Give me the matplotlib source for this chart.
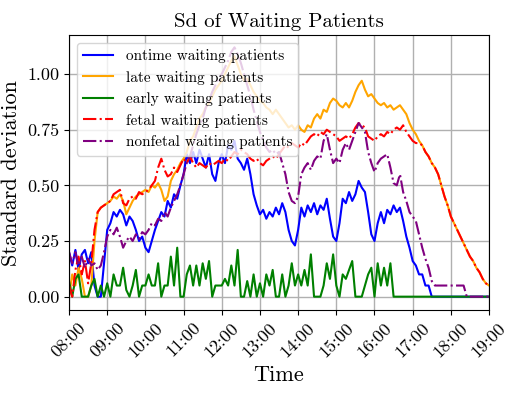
import matplotlib
matplotlib.use('Agg')
import matplotlib.pyplot as plt
import matplotlib.dates as mdates
import pandas as pd

plt.rcParams['font.family'] = 'serif'
plt.rcParams['font.serif'] = ['cmr10']
plt.rcParams['mathtext.fontset'] = 'cm'
plt.rcParams['axes.formatter.use_mathtext'] = True

# 5-minute samples, 08:00 .. 19:00
times = pd.date_range('2021-01-01 08:00', '2021-01-01 19:00', freq='5min')

ontime = [
    0.20, 0.14, 0.21, 0.12, 0.19, 0.21, 0.15, 0.20, 0.05, 0.00, 0.00, 0.15,
    0.30, 0.33, 0.38, 0.36, 0.39, 0.37, 0.32, 0.36, 0.34, 0.30, 0.25, 0.27,
    0.22, 0.20, 0.25, 0.30, 0.34, 0.38, 0.36, 0.43, 0.40, 0.46, 0.44, 0.50,
    0.55, 0.64, 0.60, 0.65, 0.60, 0.66, 0.62, 0.58, 0.64, 0.55, 0.52, 0.60,
    0.64, 0.60, 0.68, 0.66, 0.70, 0.62, 0.60, 0.57, 0.62, 0.55, 0.46, 0.41,
    0.37, 0.39, 0.35, 0.38, 0.36, 0.40, 0.37, 0.42, 0.38, 0.30, 0.25, 0.23,
    0.30, 0.40, 0.36, 0.41, 0.38, 0.42, 0.37, 0.41, 0.39, 0.44, 0.35, 0.27,
    0.25, 0.33, 0.44, 0.42, 0.47, 0.43, 0.46, 0.52, 0.49, 0.47, 0.38, 0.28,
    0.25, 0.33, 0.38, 0.33, 0.39, 0.37, 0.41, 0.38, 0.40, 0.34, 0.27, 0.22,
    0.16, 0.14, 0.10, 0.10, 0.05, 0.05, 0.00, 0.00, 0.00, 0.00, 0.00, 0.00,
    0.00, 0.00, 0.00, 0.00, 0.00, 0.00, 0.00, 0.00, 0.00, 0.00, 0.00, 0.00,
    0.00,
]

late = [
    0.00, 0.10, 0.05, 0.13, 0.08, 0.00, 0.00, 0.05, 0.25, 0.38, 0.40, 0.41,
    0.42, 0.43, 0.45, 0.44, 0.46, 0.43, 0.37, 0.40, 0.43, 0.45, 0.46, 0.47,
    0.48, 0.47, 0.50, 0.49, 0.51, 0.48, 0.43, 0.45, 0.52, 0.55, 0.57, 0.60,
    0.62, 0.65, 0.70, 0.72, 0.76, 0.80, 0.82, 0.85, 0.87, 0.90, 0.93, 0.95,
    0.97, 1.00, 1.03, 1.06, 1.08, 1.04, 1.00, 0.97, 0.98, 0.95, 0.92, 0.90,
    0.88, 0.87, 0.85, 0.84, 0.82, 0.84, 0.82, 0.80, 0.78, 0.76, 0.77, 0.75,
    0.77, 0.75, 0.74, 0.77, 0.76, 0.80, 0.82, 0.80, 0.84, 0.83, 0.87, 0.89,
    0.88, 0.86, 0.85, 0.87, 0.85, 0.88, 0.92, 0.95, 0.97, 0.93, 0.90, 0.91,
    0.89, 0.87, 0.86, 0.87, 0.85, 0.86, 0.84, 0.85, 0.86, 0.84, 0.82, 0.78,
    0.75, 0.73, 0.70, 0.68, 0.65, 0.63, 0.60, 0.58, 0.55, 0.50, 0.45, 0.41,
    0.36, 0.33, 0.30, 0.27, 0.24, 0.21, 0.18, 0.16, 0.13, 0.11, 0.08, 0.06,
    0.05,
]

early = [
    0.07, 0.00, 0.08, 0.10, 0.00, 0.00, 0.00, 0.05, 0.08, 0.00, 0.05, 0.00,
    0.06, 0.00, 0.10, 0.05, 0.05, 0.13, 0.03, 0.00, 0.05, 0.12, 0.00, 0.05,
    0.05, 0.10, 0.05, 0.05, 0.15, 0.00, 0.05, 0.05, 0.18, 0.05, 0.22, 0.00,
    0.00, 0.10, 0.14, 0.05, 0.14, 0.05, 0.15, 0.08, 0.16, 0.00, 0.05, 0.05,
    0.05, 0.08, 0.05, 0.14, 0.05, 0.21, 0.00, 0.00, 0.07, 0.00, 0.10, 0.00,
    0.06, 0.00, 0.10, 0.05, 0.12, 0.00, 0.00, 0.10, 0.00, 0.05, 0.15, 0.05,
    0.10, 0.05, 0.12, 0.05, 0.19, 0.00, 0.00, 0.00, 0.05, 0.15, 0.08, 0.19,
    0.05, 0.00, 0.10, 0.08, 0.12, 0.16, 0.00, 0.00, 0.00, 0.05, 0.10, 0.13,
    0.00, 0.15, 0.05, 0.13, 0.05, 0.15, 0.00, 0.00, 0.00, 0.00, 0.00, 0.00,
    0.00, 0.00, 0.00, 0.00, 0.00, 0.00, 0.00, 0.00, 0.00, 0.00, 0.00, 0.00,
    0.00, 0.00, 0.00, 0.00, 0.00, 0.00, 0.00, 0.00, 0.00, 0.00, 0.00, 0.00,
    0.00,
]

fetal = [
    0.05, 0.00, 0.12, 0.18, 0.10, 0.16, 0.06, 0.15, 0.30, 0.38, 0.40, 0.41,
    0.42, 0.43, 0.46, 0.47, 0.48, 0.42, 0.41, 0.44, 0.45, 0.44, 0.47, 0.46,
    0.47, 0.48, 0.50, 0.52, 0.58, 0.62, 0.57, 0.54, 0.55, 0.58, 0.56, 0.59,
    0.62, 0.60, 0.63, 0.60, 0.58, 0.60, 0.59, 0.58, 0.60, 0.59, 0.60, 0.61,
    0.60, 0.62, 0.61, 0.63, 0.65, 0.64, 0.66, 0.65, 0.64, 0.62, 0.61, 0.62,
    0.60, 0.59, 0.61, 0.62, 0.63, 0.62, 0.64, 0.66, 0.68, 0.67, 0.69, 0.68,
    0.67, 0.69, 0.68, 0.70, 0.72, 0.73, 0.72, 0.74, 0.73, 0.75, 0.74, 0.73,
    0.72, 0.70, 0.71, 0.72, 0.71, 0.73, 0.76, 0.78, 0.77, 0.76, 0.72, 0.71,
    0.70, 0.72, 0.73, 0.72, 0.74, 0.73, 0.75, 0.76, 0.75, 0.77, 0.74, 0.72,
    0.70, 0.69, 0.69, 0.68, 0.65, 0.63, 0.60, 0.58, 0.55, 0.50, 0.45, 0.41,
    0.36, 0.33, 0.30, 0.27, 0.24, 0.21, 0.18, 0.16, 0.13, 0.11, 0.08, 0.06,
    0.05,
]

nonfetal = [
    0.20, 0.15, 0.20, 0.14, 0.18, 0.13, 0.17, 0.14, 0.15, 0.12, 0.14, 0.20,
    0.27, 0.30, 0.28, 0.31, 0.27, 0.22, 0.25, 0.27, 0.25, 0.28, 0.26, 0.29,
    0.28, 0.30, 0.33, 0.32, 0.35, 0.34, 0.38, 0.36, 0.40, 0.43, 0.46, 0.50,
    0.55, 0.60, 0.63, 0.68, 0.73, 0.77, 0.80, 0.85, 0.88, 0.92, 0.95, 0.98,
    1.00, 1.03, 1.06, 1.10, 1.12, 1.09, 1.05, 1.00, 0.95, 0.90, 0.84, 0.79,
    0.74, 0.70, 0.67, 0.65, 0.66, 0.64, 0.65, 0.60, 0.55, 0.47, 0.43, 0.42,
    0.45, 0.55, 0.58, 0.60, 0.57, 0.61, 0.63, 0.62, 0.70, 0.73, 0.66, 0.60,
    0.62, 0.60, 0.66, 0.69, 0.66, 0.70, 0.74, 0.78, 0.76, 0.74, 0.65, 0.60,
    0.56, 0.60, 0.62, 0.63, 0.64, 0.58, 0.51, 0.50, 0.55, 0.47, 0.43, 0.38,
    0.36, 0.34, 0.28, 0.22, 0.17, 0.13, 0.07, 0.05, 0.05, 0.05, 0.05, 0.05,
    0.05, 0.05, 0.05, 0.05, 0.05, 0.00, 0.00, 0.00, 0.00, 0.00, 0.00, 0.00,
    0.00,
]

fig = plt.figure(figsize=(5.31, 3.99), dpi=100)
ax = fig.add_subplot(111)
fig.subplots_adjust(left=0.130, right=0.921, bottom=0.223, top=0.912)

ax.plot(times, ontime, color='blue', lw=1.5, label='ontime waiting patients')
ax.plot(times, late, color='orange', lw=1.5, label='late waiting patients')
ax.plot(times, early, color='green', lw=1.5, label='early waiting patients')
ax.plot(times, fetal, color='red', lw=1.5, ls='-.', label='fetal waiting patients')
ax.plot(times, nonfetal, color='purple', lw=1.5, ls='-.', label='nonfetal waiting patients')

ax.set_xlim(times[0], times[-1])
ax.set_ylim(-0.06, 1.175)
ax.set_yticks([0.0, 0.25, 0.5, 0.75, 1.0])
ax.yaxis.set_major_formatter(plt.FormatStrFormatter('%.2f'))
ax.xaxis.set_major_locator(mdates.HourLocator())
ax.xaxis.set_major_formatter(mdates.DateFormatter('%H:%M'))
plt.setp(ax.get_xticklabels(), rotation=45)
ax.tick_params(labelsize=13)
ax.grid(True, color='#b0b0b0', lw=1.0)

ax.set_title('Sd of Waiting Patients', fontsize=15)
ax.set_xlabel('Time', fontsize=16)
ax.set_ylabel('Standard deviation', fontsize=16)
ax.legend(loc='upper left', fontsize=11)

plt.savefig('out.png', dpi=100)
